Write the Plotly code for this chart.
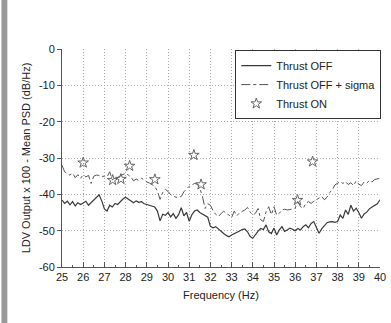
import plotly.graph_objects as go

# Frequency grid (Hz), 0.125 Hz resolution
freq = [25 + 0.125 * i for i in range(121)]

thrust_off = [
    -41.6, -42.5, -41.9, -42.9, -42.0, -43.2, -42.3, -42.8,
    -42.4, -41.9, -43.0, -42.3, -41.5, -41.0, -40.1, -41.8,
    -44.0, -44.6, -43.0, -43.5, -42.5, -42.8, -42.0, -41.3,
    -40.8, -41.3, -41.9, -42.3, -41.8, -42.2, -42.0, -42.6,
    -42.8, -43.0, -43.3, -43.5, -44.6, -47.3, -45.5, -45.8,
    -45.0, -46.2, -45.3, -46.6, -45.6, -43.7, -45.9, -45.0,
    -47.4, -45.6, -44.6, -44.3, -45.0, -45.4, -45.9, -46.3,
    -48.8, -49.2, -48.9, -49.6, -50.2, -50.8, -51.3, -51.7,
    -51.2, -50.9, -50.5, -50.1, -49.7, -49.5, -50.3, -51.6,
    -52.1, -51.0, -50.1, -49.4, -49.7, -48.4, -50.3, -50.8,
    -49.3, -51.2, -49.8, -48.9, -50.2, -49.8, -49.3, -49.6,
    -50.0, -49.4, -49.8, -48.9, -48.4, -49.2, -48.0, -47.5,
    -49.2, -50.7, -49.5, -48.6, -47.8, -47.6, -47.5, -47.7,
    -47.5, -45.7, -46.6, -44.3, -45.5, -43.0, -44.6, -43.8,
    -45.0, -46.6, -45.4, -44.9, -44.0, -43.5, -43.0, -42.6,
    -41.5,
]

thrust_off_sigma = [
    -32.0, -33.8, -34.3, -34.7, -34.2, -35.4, -34.6, -35.6,
    -34.6, -35.2, -34.8, -37.0, -35.0, -34.7, -34.8, -35.1,
    -35.0, -35.2, -33.8, -36.0, -35.5, -35.4, -34.9, -34.5,
    -34.2, -34.7, -35.2, -36.3, -35.8, -36.2, -35.6, -36.0,
    -36.6, -36.9, -37.3, -37.8, -39.1, -41.4, -39.5, -38.6,
    -39.2, -40.1, -40.5, -40.8, -40.8, -40.6, -39.3, -38.4,
    -37.8, -37.4, -37.0, -37.2, -38.3, -40.6, -43.9, -42.6,
    -43.0, -44.5, -45.5, -46.1, -45.4, -44.6, -45.3, -45.7,
    -46.4, -44.6, -45.9, -45.1, -44.7, -44.3, -43.6, -44.9,
    -45.7, -45.2, -43.9, -47.0, -47.5, -44.8, -43.4, -45.6,
    -43.4, -45.7, -45.2, -44.3, -44.1, -44.3, -44.2, -44.0,
    -43.8, -42.0, -43.4, -43.9, -42.5, -42.0, -42.5, -41.9,
    -41.5, -41.1, -40.6, -41.5, -40.8, -39.5, -38.8, -37.4,
    -36.9, -36.5, -37.0, -36.5, -37.3, -36.8, -37.6, -36.3,
    -37.2, -37.6, -36.6, -36.9, -36.2, -36.6, -35.9, -35.7,
    -35.6,
]

on_freq = [26.0, 27.39, 27.78, 28.19, 29.38, 31.22, 31.56, 36.11, 36.82]
on_psd = [-31.3, -36.1, -35.8, -32.2, -35.9, -29.2, -37.3, -41.6, -31.0]

x_ticks = list(range(25, 41))
y_ticks = [0, -10, -20, -30, -40, -50, -60]

FONT = "Liberation Sans, Arial, sans-serif"
TXT = "#222222"

fig = go.Figure()
fig.add_trace(go.Scatter(
    x=freq, y=thrust_off, mode="lines", name="Thrust OFF",
    line=dict(color="#3a3a3a", width=1.2),
))
fig.add_trace(go.Scatter(
    x=freq, y=thrust_off_sigma, mode="lines", name="Thrust OFF + sigma",
    line=dict(color="#555555", width=1, dash="dashdot"),
))
fig.add_trace(go.Scatter(
    x=on_freq, y=on_psd, mode="markers", name="Thrust ON",
    marker=dict(symbol="star-open", size=8, color="#666666",
                line=dict(color="#666666", width=1)),
))

fig.update_layout(
    width=391, height=323,
    margin=dict(l=62, r=5, t=49, b=56),
    paper_bgcolor="white", plot_bgcolor="white",
    font=dict(family=FONT, size=11, color=TXT),
    showlegend=True,
    legend=dict(
        x=1.004, y=0.995, xanchor="right", yanchor="top",
        bordercolor="#333333", borderwidth=1, bgcolor="white",
        font=dict(family=FONT, size=11, color=TXT),
        tracegroupgap=0, itemwidth=30,
    ),
    shapes=[dict(
        type="rect", xref="paper", yref="paper",
        x0=-0.1904, x1=-0.1719, y0=-0.26, y1=1.23,
        fillcolor="#999999", line=dict(width=0), layer="above",
    )],
)

fig.update_xaxes(
    range=[25, 40], tickmode="array", tickvals=x_ticks,
    ticktext=[str(t) for t in x_ticks],
    ticklabeloverflow="allow",
    showgrid=True, gridcolor="#aaaaaa", griddash="1px,2px", gridwidth=1,
    showline=True, linecolor="#555555", linewidth=1,
    ticks="inside", ticklen=5, tickcolor="#555555",
    minor=dict(dtick=0.5, ticks="inside", ticklen=2, tickcolor="#555555", showgrid=False),
    zeroline=False,
    title=dict(text="Frequency (Hz)", font=dict(size=11, family=FONT, color=TXT), standoff=9),
    tickfont=dict(size=11, family=FONT, color=TXT),
)
fig.update_yaxes(
    range=[-60, 0], tickmode="array", tickvals=y_ticks,
    ticktext=[str(t) for t in y_ticks],
    showgrid=True, gridcolor="#aaaaaa", griddash="1px,2px", gridwidth=1,
    showline=True, linecolor="#555555", linewidth=1,
    ticks="outside", ticklen=4, tickcolor="#555555",
    zeroline=False,
    title=dict(text="LDV Output x 100 - Mean PSD (dB/Hz)", font=dict(size=11, family=FONT, color=TXT), standoff=6),
    tickfont=dict(size=11, family=FONT, color=TXT),
)

fig.write_html("out.html")
